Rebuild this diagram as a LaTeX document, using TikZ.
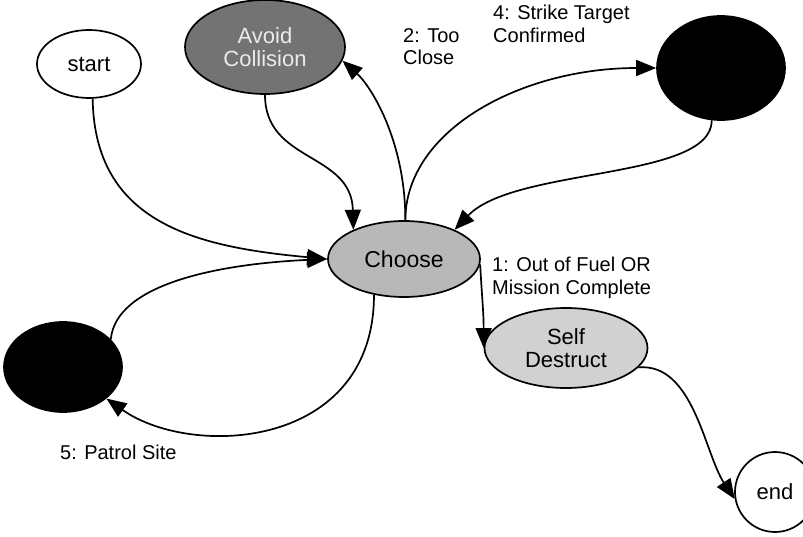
\documentclass[tikz,border=0pt]{standalone}
\usepackage{fontspec}
\setmainfont{Liberation Sans}
\usetikzlibrary{arrows.meta,shapes.geometric}
\begin{document}
\begin{tikzpicture}[x=1pt,y=-1pt,
  state/.style={ellipse,draw=black,line width=1.7pt,inner sep=0pt,align=center,
    font=\fontsize{22}{23}\selectfont},
  edge/.style={line width=1.7pt,-{Triangle[length=20pt,width=16pt]}},
  lbl/.style={anchor=north west,align=left,inner sep=0pt,
    font=\fontsize{20}{22.5}\selectfont}]
\useasboundingbox (0,0) rectangle (803,537);

% states
\node[state,minimum width=104pt,minimum height=68pt] (start) at (89,64) {start};
\node[state,fill=black!55,text=black!8,minimum width=160pt,minimum height=94pt] (avoid) at (265,47) {Avoid\\Collision};
\node[state,fill=black,minimum width=128pt,minimum height=104pt] (strike) at (721,68) {};
\node[state,fill=black!28,minimum width=152pt,minimum height=76pt,
  font=\fontsize{23}{24}\selectfont] (choose) at (404,259) {Choose};
\node[state,fill=black!18,minimum width=163pt,minimum height=80pt] (self) at (566,348) {Self\\Destruct};
\node[state,fill=black,minimum width=118pt,minimum height=90pt] (patrol) at (63,367) {};
\node[circle,draw=black,line width=1.7pt,inner sep=0pt,minimum size=80pt,
  font=\fontsize{22}{23}\selectfont] (end) at (775,492) {end};

% transitions
\draw[edge] (start.-84) .. controls +(2,125) and +(-130,-12) .. (choose.west);
\draw[edge] (patrol.30) .. controls +(5,-55) and +(-110,5) .. (choose.west);
\draw[edge] (avoid.-90) .. controls +(0,68) and +(-2,-78) .. (choose.150);
\draw[edge] (choose.88) .. controls +(0,-80) and +(28,25) .. (avoid.-10);
\draw[edge] (choose.88) .. controls +(0,-90) and +(-135,0) .. (strike.west);
\draw[edge] (strike.-100) .. controls +(0,60) and +(60,-63) .. (choose.30);
\draw[edge] (choose.-130) .. controls +(0,155) and +(85,60) .. (patrol.-36);
\draw[edge] (choose.-4) .. controls +(2,35) and +(0,-35) .. (self.west);
\draw[edge] (self.-15) .. controls +(55,-5) and +(-30,-45) .. (end.190);

% transition labels
\node[lbl] (l2) at (403,28) {2: Too\\Close};
\node[lbl] (l4) at (493,5) {4: Strike Target\\Confirmed};
\node[lbl] (l1) at (492,257) {1: Out of Fuel OR\\Mission Complete};
\node[lbl] (l5) at (60,445) {5: Patrol Site};
\end{tikzpicture}
\end{document}
